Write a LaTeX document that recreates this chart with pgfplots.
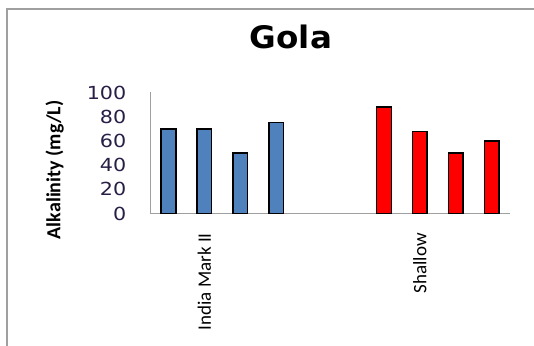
\documentclass[border=0pt]{standalone}
\usepackage{fontspec}
\usepackage{pgfplots}
\pgfplotsset{compat=1.18}
\setmainfont{Carlito}
\newfontfamily\tickfont[FakeStretch=1.15]{DejaVu Sans}
\newfontfamily\titlefont[FakeStretch=1.05]{DejaVu Sans}
\definecolor{xlblue}{HTML}{4F81BD}
\definecolor{ticktext}{RGB}{40,30,70}
\definecolor{framegray}{RGB}{160,160,160}
\begin{document}
\begin{tikzpicture}[x=1pt,y=1pt]
\useasboundingbox (0,0) rectangle (534,345);
% chart-area frame (runs off the right and bottom edges)
\draw[framegray, line width=1.3pt] (7,-10) -- (7,336) -- (545,336);
\begin{axis}[
  at={(150.5pt,131.5pt)}, anchor=south west,
  scale only axis, width=359pt, height=121pt,
  xmin=-0.5, xmax=9.5, ymin=0, ymax=100,
  axis x line*=bottom, axis y line*=left,
  axis line style={framegray, line width=1.3pt, -},
  major tick length=0pt,
  ytick={0,20,...,100},
  xtick={1,7}, xticklabels={India Mark II, Shallow},
  /pgf/number format/assume math mode=true,
  yticklabel style={font=\tickfont\fontsize{18}{18}\selectfont, text=ticktext, inner sep=0pt, anchor=east},
  yticklabel shift=24pt,
  xticklabel style={font=\fontsize{19}{19}\selectfont, rotate=90, anchor=east, inner sep=0pt},
  xticklabel shift=19.5pt,
  title={Gola},
  title style={font=\titlefont\bfseries\fontsize{31}{31}\selectfont, at={(rel axis cs:0.391,1.412)}, anchor=center, inner sep=0pt},
  ylabel={Alkalinity (mg/L)},
  every axis y label/.style={at={(rel axis cs:-0.267,0.36)}, rotate=90, anchor=center, font=\bfseries\fontsize{20}{20}\selectfont},
  ybar, bar width=14.7pt,
  clip=false,
]
\addplot[bar shift=0pt, fill=xlblue, draw=black, line width=1.4pt]
  coordinates {(0,70) (1,70) (2,50) (3,75)};
\addplot[bar shift=0pt, fill=red, draw=black, line width=1.4pt]
  coordinates {(6,88) (7,68) (8,50) (9,60)};
\end{axis}
\end{tikzpicture}
\end{document}
